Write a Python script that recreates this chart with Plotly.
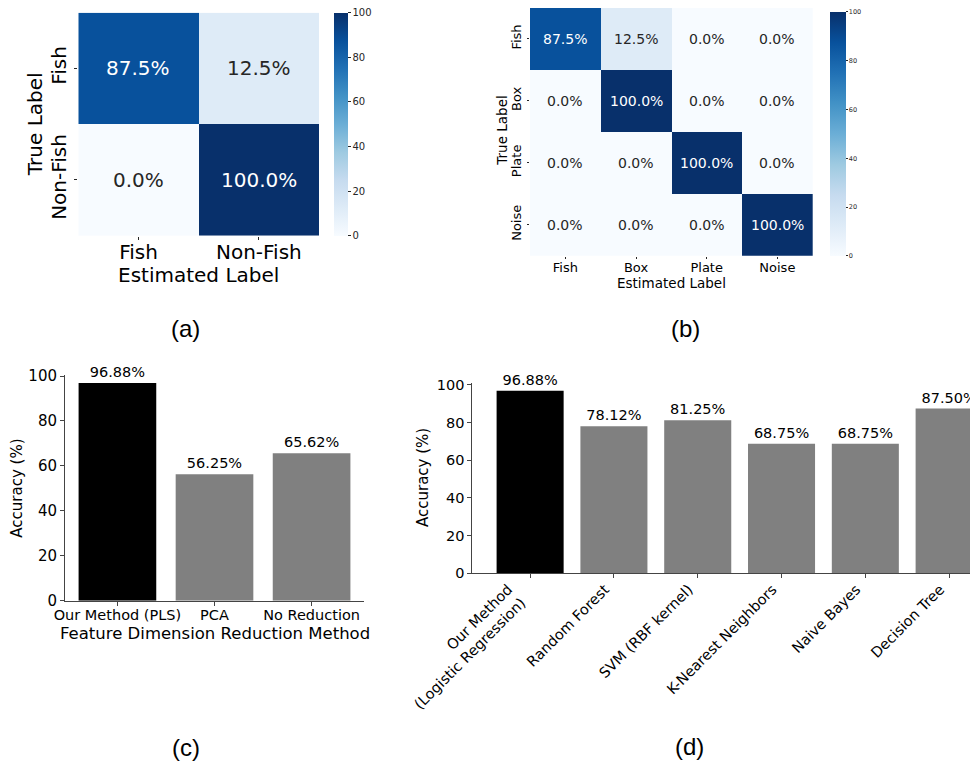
import plotly.graph_objects as go

W, H = 978, 766
OFF = 8  # the page body adds an 8px margin around the figure

# ---------------- data ----------------
# (a) binary confusion matrix (%)
binary_labels = ["Fish", "Non-Fish"]
binary_cm = [[87.5, 12.5],
             [0.0, 100.0]]

# (b) multi-class confusion matrix (%)
multi_labels = ["Fish", "Box", "Plate", "Noise"]
multi_cm = [[87.5, 12.5, 0.0, 0.0],
            [0.0, 100.0, 0.0, 0.0],
            [0.0, 0.0, 100.0, 0.0],
            [0.0, 0.0, 0.0, 100.0]]

# (c) feature dimension reduction comparison
reduction_methods = ["Our Method (PLS)", "PCA", "No Reduction"]
reduction_acc = [96.88, 56.25, 65.62]

# (d) classifier comparison
classifiers = ["Our Method<br>(Logistic Regression)", "Random Forest", "SVM (RBF kernel)",
               "K-Nearest Neighbors", "Naive Bayes", "Decision Tree"]
classifier_acc = [96.88, 78.12, 81.25, 68.75, 68.75, 87.50]

colorbar_ticks = [0, 20, 40, 60, 80, 100]
accuracy_ticks = [0, 20, 40, 60, 80, 100]
panel_labels = ["(a)", "(b)", "(c)", "(d)"]

# ---------------- style ----------------
FONT = "DejaVu Sans"
BLUES = [[0.0, "rgb(247,251,255)"], [0.125, "rgb(222,235,247)"], [0.25, "rgb(198,219,239)"],
         [0.375, "rgb(158,202,225)"], [0.5, "rgb(107,174,214)"], [0.625, "rgb(66,146,198)"],
         [0.75, "rgb(33,113,181)"], [0.875, "rgb(8,81,156)"], [1.0, "rgb(8,48,107)"]]
AXC = "#444444"


def fx(px):
    return min(1.0, max(0.0, (px - OFF) / W))


def fy(py):
    return min(1.0, max(0.0, 1 - (py - OFF) / H))


fig = go.Figure()

# ---- (a) heatmap ----
fig.add_trace(go.Heatmap(
    z=binary_cm, x=list(range(len(binary_labels))), y=list(range(len(binary_labels))),
    colorscale=BLUES, zmin=0, zmax=100, xaxis="x", yaxis="y", hoverinfo="skip",
    colorbar=dict(x=fx(334), xanchor="left", y=fy(124.2), yanchor="middle",
                  len=(235.7 - 12.7) / H, lenmode="fraction", thickness=14.3,
                  thicknessmode="pixels", xpad=0, ypad=0, outlinewidth=0,
                  ticks="outside", ticklen=3, tickcolor="#262626", tickvals=colorbar_ticks,
                  ticklabeloverflow="allow",
                  tickfont=dict(family=FONT, size=10, color="#262626")),
))

# ---- (b) heatmap ----
CB_TOP, CB_BOT = 12, 255.7
fig.add_trace(go.Heatmap(
    z=multi_cm, x=list(range(len(multi_labels))), y=list(range(len(multi_labels))),
    colorscale=BLUES, zmin=0, zmax=100, xaxis="x2", yaxis="y2", hoverinfo="skip",
    colorbar=dict(x=fx(830), xanchor="left", y=fy((CB_TOP + CB_BOT) / 2), yanchor="middle",
                  len=(CB_BOT - CB_TOP) / H, lenmode="fraction", thickness=16,
                  thicknessmode="pixels", xpad=0, ypad=0, outlinewidth=0,
                  ticks="outside", ticklen=2, tickcolor="#262626", tickvals=colorbar_ticks,
                  ticklabeloverflow="allow",
                  tickfont=dict(family=FONT, size=6.5, color="#262626")),
))

# ---- (c) bars ----
fig.add_trace(go.Bar(
    x=list(range(len(reduction_methods))), y=reduction_acc, width=0.8,
    marker=dict(color=["black"] + ["gray"] * (len(reduction_methods) - 1), line=dict(width=0)),
    text=[f"{v:.2f}%" for v in reduction_acc], textposition="outside", cliponaxis=False,
    constraintext="none", textfont=dict(family=FONT, size=14.5, color="black"),
    xaxis="x3", yaxis="y3", hoverinfo="skip", showlegend=False,
))

# ---- (d) bars ----
fig.add_trace(go.Bar(
    x=list(range(len(classifiers))), y=classifier_acc, width=0.8,
    marker=dict(color=["black"] + ["gray"] * (len(classifiers) - 1), line=dict(width=0)),
    text=[f"{v:.2f}%" for v in classifier_acc], textposition="outside", cliponaxis=False,
    constraintext="none", textfont=dict(family=FONT, size=14.5, color="black"),
    xaxis="x4", yaxis="y4", hoverinfo="skip", showlegend=False,
))
# invisible helper so the overlay axis carrying the two-line first label is drawn
fig.add_trace(go.Scatter(
    x=[0], y=[classifier_acc[0]], mode="markers", marker=dict(opacity=0, size=1),
    xaxis="x5", yaxis="y4", hoverinfo="skip", showlegend=False,
))

annotations = []


def cell_text(cm, xref, yref, size):
    for i, row in enumerate(cm):
        for j, v in enumerate(row):
            annotations.append(dict(
                x=j, y=i, xref=xref, yref=yref, text=f"{v:.1f}%", showarrow=False,
                font=dict(family=FONT, size=size, color="white" if v > 50 else "#262626")))


cell_text(binary_cm, "x", "y", 20)
cell_text(multi_cm, "x2", "y2", 14)


def paper_text(text, px, py, size, angle=0, family=FONT, color="black"):
    annotations.append(dict(x=fx(px), y=fy(py), xref="paper", yref="paper", text=text,
                            showarrow=False, textangle=angle, xanchor="center", yanchor="middle",
                            font=dict(family=family, size=size, color=color)))


# axis titles
paper_text("True Label", 35, 124.2, 20, -90)
paper_text("Estimated Label", 198.6, 275, 20)
paper_text("True Label", 501.7, 131, 13.5, -90)
paper_text("Estimated Label", 671.5, 282.7, 13.5)
paper_text("Accuracy (%)", 16.7, 488, 15, -90)
paper_text("Feature Dimension Reduction Method", 215, 633, 16.5)
paper_text("Accuracy (%)", 423, 478, 15, -90)

# panel labels
for lab, (px, py) in zip(panel_labels, [(185, 329), (685, 329), (186, 747), (689, 746)]):
    paper_text(lab, px, py, 24, family="Liberation Sans, Arial")

heat_axis = dict(showgrid=False, zeroline=False, showline=False, ticks="outside",
                 ticklen=3.5, tickcolor="#262626", tickwidth=1, automargin=False)
bar_axis = dict(showgrid=False, zeroline=False, showline=True, linecolor=AXC, linewidth=1,
                ticks="outside", ticklen=4, tickcolor=AXC, tickwidth=1, automargin=False)

D_RANGE = [-0.69, 5.44]
D_DOMAIN = [fx(472.3), 1.0]

fig.update_layout(
    template="none",
    width=W, height=H, margin=dict(l=0, r=0, t=0, b=0, pad=0), autosize=False,
    paper_bgcolor="white", plot_bgcolor="white",
    font=dict(family=FONT, color="black"),
    showlegend=False,
    annotations=annotations,
    xaxis=dict(heat_axis, domain=[fx(78.3), fx(319)], range=[-0.5, 1.5], anchor="y",
               tickvals=list(range(len(binary_labels))), ticktext=binary_labels,
               ticklabelstandoff=-5, tickfont=dict(size=20, color="black")),
    yaxis=dict(heat_axis, domain=[fy(235.7), fy(12.7)], range=[1.5, -0.5], anchor="x",
               tickvals=list(range(len(binary_labels))), ticktext=binary_labels,
               tickangle=-90, tickfont=dict(size=20, color="black")),
    xaxis2=dict(heat_axis, domain=[fx(530), fx(812.7)], range=[-0.5, 3.5], anchor="y2",
                tickvals=list(range(len(multi_labels))), ticktext=multi_labels,
                ticklabelstandoff=-3, ticklen=2.5, tickfont=dict(size=13, color="black")),
    yaxis2=dict(heat_axis, domain=[fy(255.7), fy(8)], range=[3.5, -0.5], anchor="x2",
                tickvals=list(range(len(multi_labels))), ticktext=multi_labels,
                ticklen=2.5, tickangle=-90, tickfont=dict(size=13, color="black")),
    xaxis3=dict(bar_axis, domain=[fx(65), fx(364)], range=[-0.54, 2.54], anchor="y3",
                tickvals=list(range(len(reduction_methods))), ticktext=reduction_methods,
                ticklabelstandoff=-3, tickfont=dict(size=14.5, color="black")),
    yaxis3=dict(bar_axis, domain=[fy(600.7), fy(374.9)], range=[0, 100.5], anchor="x3",
                tickvals=accuracy_ticks, tickfont=dict(size=15, color="black")),
    # single-line classifier labels
    xaxis4=dict(bar_axis, domain=D_DOMAIN, range=D_RANGE, anchor="y4",
                tickvals=list(range(1, len(classifiers))), ticktext=classifiers[1:],
                tickangle=-45, ticklabelshift=-9, ticklabelstandoff=-3,
                tickfont=dict(size=14.5, color="black")),
    # two-line label of the first bar (needs its own shift)
    xaxis5=dict(bar_axis, showline=False, domain=D_DOMAIN, range=D_RANGE, anchor="y4",
                overlaying="x4", side="bottom",
                tickvals=[0], ticktext=classifiers[:1],
                tickangle=-45, ticklabelshift=-22, ticklabelstandoff=-3,
                tickfont=dict(size=14.5, color="black")),
    yaxis4=dict(bar_axis, domain=[fy(573.3), fy(383.1)], range=[0, 101], anchor="x4",
                tickvals=accuracy_ticks, tickfont=dict(size=14.5, color="black")),
)

fig.write_html("out.html")
